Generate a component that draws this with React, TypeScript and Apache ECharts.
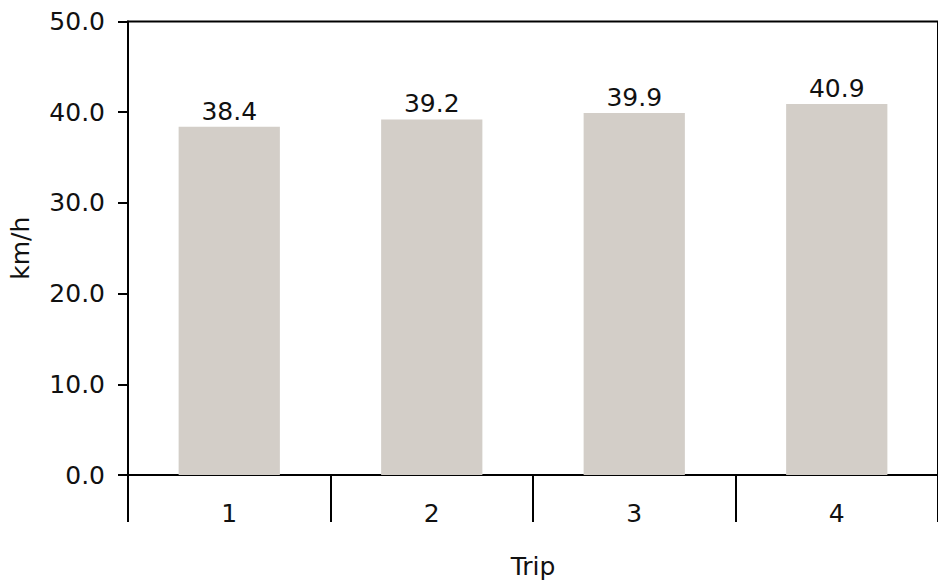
import React, { useEffect, useRef } from "react";
import * as echarts from "echarts";

const categories = ["1", "2", "3", "4"];
const speeds = [38.4, 39.2, 39.9, 40.9];
const yTicks = { min: 0, max: 50, interval: 10 };

const FONT = "DejaVu Sans";
const TEXT = "#111";

export default function App() {
  const ref = useRef<HTMLDivElement>(null);
  useEffect(() => {
    if (!ref.current) return;
    const chart = echarts.init(ref.current, undefined, { renderer: "svg" });
    chart.setOption({
      animation: false,
      backgroundColor: "#ffffff",
      textStyle: { fontFamily: FONT },
      grid: {
        left: 128,
        right: -8,
        top: 21.5,
        bottom: 105,
        show: true,
        borderColor: "#000",
        borderWidth: 2,
        backgroundColor: "transparent",
        containLabel: false,
      },
      xAxis: {
        type: "category",
        data: categories,
        name: "Trip",
        nameLocation: "middle",
        nameGap: 79,
        nameTextStyle: { fontFamily: FONT, fontSize: 25, color: TEXT },
        axisLine: { show: true, lineStyle: { color: "#000", width: 2 } },
        axisTick: {
          show: true,
          alignWithLabel: false,
          interval: 0,
          length: 47,
          lineStyle: { color: "#000", width: 2 },
        },
        axisLabel: {
          fontFamily: FONT,
          fontSize: 25,
          color: TEXT,
          margin: 26,
          interval: 0,
        },
        splitLine: { show: false },
      },
      yAxis: {
        type: "value",
        min: yTicks.min,
        max: yTicks.max,
        interval: yTicks.interval,
        name: "km/h",
        nameLocation: "middle",
        nameGap: 95,
        nameRotate: 90,
        nameTextStyle: { fontFamily: FONT, fontSize: 25, color: TEXT },
        axisLine: { show: true, lineStyle: { color: "#000", width: 2 } },
        axisTick: {
          show: true,
          inside: false,
          length: 10,
          lineStyle: { color: "#000", width: 2 },
        },
        axisLabel: {
          fontFamily: FONT,
          fontSize: 25,
          color: TEXT,
          margin: 23,
          formatter: (v: number) => v.toFixed(1),
        },
        splitLine: { show: false },
      },
      series: [
        {
          type: "bar",
          data: speeds,
          barWidth: "50%",
          itemStyle: { color: "#d3cec8" },
          label: {
            show: true,
            position: "top",
            distance: 3,
            fontFamily: FONT,
            fontSize: 25,
            color: TEXT,
            formatter: (p: any) => Number(p.value).toFixed(1),
          },
        },
      ],
    });
    return () => chart.dispose();
  }, []);
  return (
    <div
      style={{
        position: "fixed",
        left: 0,
        top: 0,
        width: 938,
        height: 584,
        overflow: "hidden",
        background: "#fff",
      }}
    >
      <div ref={ref} style={{ width: 938, height: 584 }} />
    </div>
  );
}
